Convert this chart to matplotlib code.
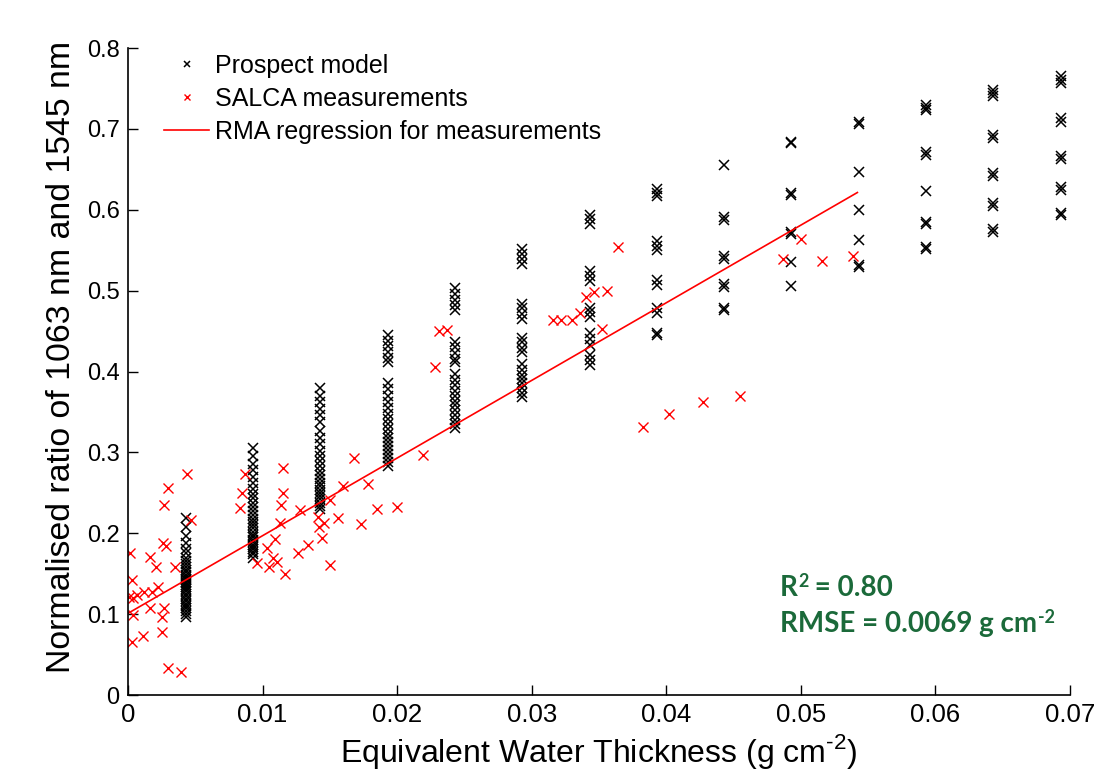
import matplotlib
matplotlib.use("Agg")
import matplotlib.pyplot as plt
import numpy as np

plt.rcParams['font.family'] = ['Liberation Sans', 'DejaVu Sans']
plt.rcParams['mathtext.fontset'] = 'custom'
plt.rcParams['mathtext.rm'] = 'Liberation Sans'

# --- Prospect model (columns of simulated values) ---
ewt_model = [0.0043, 0.0093, 0.0143, 0.0193, 0.0243, 0.0293, 0.0343,
             0.0393, 0.0443, 0.0493, 0.0543, 0.0593, 0.0643, 0.0693]
ratio_model = [
    [0.219, 0.208, 0.197, 0.188, 0.181, 0.175, 0.170, 0.166, 0.162, 0.158,
     0.155, 0.152, 0.149, 0.146, 0.144, 0.142, 0.140, 0.138, 0.136, 0.134,
     0.131, 0.128, 0.125, 0.122, 0.119, 0.116, 0.113, 0.110, 0.107, 0.104,
     0.100, 0.096],
    [0.305, 0.295, 0.286, 0.278, 0.270, 0.262, 0.255, 0.249, 0.243, 0.237,
     0.232, 0.227, 0.222, 0.218, 0.214, 0.210, 0.206, 0.202, 0.198, 0.195,
     0.192, 0.189, 0.186, 0.183, 0.180, 0.177, 0.174, 0.170],
    [0.379, 0.370, 0.362, 0.354, 0.346, 0.338, 0.327, 0.318, 0.310, 0.302,
     0.295, 0.289, 0.283, 0.277, 0.272, 0.267, 0.262, 0.258, 0.254, 0.250,
     0.246, 0.242, 0.238, 0.234, 0.230],
    [0.445, 0.438, 0.431, 0.424, 0.417, 0.412, 0.386, 0.378, 0.370, 0.362,
     0.355, 0.348, 0.341, 0.335, 0.329, 0.323, 0.318, 0.313, 0.308, 0.303,
     0.298, 0.293, 0.288, 0.283],
    [0.503, 0.496, 0.489, 0.482, 0.476, 0.437, 0.430, 0.423, 0.416, 0.412,
     0.397, 0.390, 0.383, 0.376, 0.370, 0.364, 0.358, 0.352, 0.346, 0.340,
     0.335, 0.330],
    [0.551, 0.545, 0.539, 0.533, 0.484, 0.478, 0.471, 0.465, 0.442, 0.436,
     0.429, 0.424, 0.409, 0.402, 0.396, 0.391, 0.386, 0.380, 0.374, 0.369],
    [0.594, 0.588, 0.582, 0.524, 0.518, 0.512, 0.479, 0.473, 0.468, 0.447,
     0.440, 0.433, 0.421, 0.414, 0.408],
    [0.626, 0.621, 0.617, 0.561, 0.555, 0.550, 0.513, 0.507, 0.478, 0.472,
     0.448, 0.445],
    [0.655, 0.591, 0.587, 0.543, 0.539, 0.508, 0.505, 0.479, 0.476],
    [0.684, 0.682, 0.621, 0.618, 0.573, 0.570, 0.535, 0.506],
    [0.709, 0.706, 0.647, 0.600, 0.562, 0.532, 0.529],
    [0.730, 0.726, 0.723, 0.671, 0.668, 0.623, 0.585, 0.582, 0.554, 0.551],
    [0.748, 0.744, 0.741, 0.692, 0.689, 0.645, 0.642, 0.608, 0.605, 0.576,
     0.573],
    [0.766, 0.761, 0.757, 0.713, 0.709, 0.666, 0.663, 0.628, 0.625, 0.596,
     0.593],
]

# --- SALCA measurements ---
ewt_meas = [0.00015, 0.0003, 0.0001, 0.0004, 0.0007, 0.0012, 0.0018, 0.0022,
            0.0004, 0.0003, 0.0011, 0.0016, 0.0016, 0.0021, 0.0025, 0.0025,
            0.0027, 0.0026, 0.0028, 0.0027, 0.0030, 0.0030, 0.0039, 0.0035,
            0.0044, 0.0047,
            0.0087, 0.0085, 0.0083, 0.0096, 0.0103, 0.0105, 0.0109, 0.0108,
            0.0111, 0.0114, 0.0115, 0.0115, 0.0113, 0.0117, 0.0126, 0.0128,
            0.0134,
            0.0144, 0.0141, 0.0142, 0.0146, 0.0150, 0.0150, 0.0156, 0.0160,
            0.0168, 0.0173, 0.0178, 0.0185, 0.0200, 0.0219, 0.0228, 0.0231,
            0.0237,
            0.0316, 0.0322, 0.0330, 0.0336, 0.0340, 0.0346, 0.0356, 0.0352,
            0.0364, 0.0383, 0.0402, 0.0427, 0.0455, 0.0487, 0.0500, 0.0516,
            0.0539]
ratio_meas = [0.176, 0.142, 0.121, 0.120, 0.124, 0.127, 0.127, 0.134,
              0.099, 0.066, 0.073, 0.108, 0.171, 0.158, 0.096, 0.078,
              0.108, 0.188, 0.184, 0.235, 0.256, 0.033, 0.029, 0.158,
              0.273, 0.216,
              0.273, 0.250, 0.231, 0.163, 0.182, 0.158, 0.193, 0.169,
              0.165, 0.235, 0.250, 0.281, 0.213, 0.150, 0.175, 0.229,
              0.185,
              0.194, 0.220, 0.208, 0.213, 0.241, 0.161, 0.219, 0.258,
              0.293, 0.211, 0.261, 0.230, 0.232, 0.297, 0.405, 0.450,
              0.451,
              0.464, 0.464, 0.464, 0.472, 0.492, 0.498, 0.500, 0.452,
              0.554, 0.331, 0.347, 0.362, 0.370, 0.539, 0.564, 0.537,
              0.543]

# --- RMA regression line ---
rma_intercept = 0.101
rma_slope = 9.6
rma_xrange = [0.0, 0.0542]

xm = np.concatenate([[x] * len(v) for x, v in zip(ewt_model, ratio_model)])
ym = np.concatenate(ratio_model)

fig = plt.figure(figsize=(10.97, 7.73), dpi=100)
ax = fig.add_axes([0.1167, 0.1009, 0.8587, 0.8370])

ax.plot(xm, ym, 'x', color='black', markersize=7, markeredgewidth=1.1,
        label='Prospect model')
ax.plot(ewt_meas, ratio_meas, 'x', color='red', markersize=7,
        markeredgewidth=1.0, label='SALCA measurements')
xl = np.array(rma_xrange)
ax.plot(xl, rma_intercept + rma_slope * xl, color='red', linewidth=1.2,
        label='RMA regression for measurements')

ax.set_xlim(0, 0.07)
ax.set_ylim(0, 0.8)
ax.set_xticks(np.arange(0, 0.0701, 0.01))
ax.set_xticklabels(['0', '0.01', '0.02', '0.03', '0.04', '0.05', '0.06', '0.07'])
ax.set_yticks(np.arange(0, 0.801, 0.1))
ax.set_yticklabels(['0', '0.1', '0.2', '0.3', '0.4', '0.5', '0.6', '0.7', '0.8'])
ax.tick_params(direction='in', length=7, width=1.0, pad=6)
ax.tick_params(axis='y', labelsize=17)
ax.tick_params(axis='x', labelsize=18.5)
for s in ['top', 'right']:
    ax.spines[s].set_visible(False)
for s in ['left', 'bottom']:
    ax.spines[s].set_linewidth(1.2)

ax.set_xlabel(r'Equivalent Water Thickness (g cm$^{\text{-2}}$)', fontsize=23, labelpad=3)
ax.set_ylabel('Normalised ratio of 1063 nm and 1545 nm', fontsize=24.4)
ax.yaxis.set_label_coords(-0.054, 0.522)

leg = ax.legend(loc='upper left', frameon=False, fontsize=18, markerscale=0.6,
                handlelength=1.8, handletextpad=0.25, labelspacing=0.36,
                borderaxespad=0.0, bbox_to_anchor=(0.0276, 1.006))

green = '#1b6a3a'
gkw = dict(fontweight='bold', family='Lato', color=green)
t1 = ax.text(0.692, 0.166, 'R', transform=ax.transAxes, fontsize=20,
             va='center', **gkw)
ax.annotate('2', xy=(1, 1), xycoords=t1, xytext=(0.5, 1), textcoords='offset points',
            fontsize=13, va='top', ha='left', **gkw)
ax.annotate(' = 0.80', xy=(1, 0), xycoords=t1, xytext=(7.5, 0),
            textcoords='offset points', fontsize=20, va='bottom', ha='left', **gkw)
t2 = ax.text(0.692, 0.110, 'RMSE = 0.0069 g cm', transform=ax.transAxes,
             fontsize=20, va='center', **gkw)
ax.annotate('-2', xy=(1, 1), xycoords=t2, xytext=(0.5, 1), textcoords='offset points',
            fontsize=13, va='top', ha='left', **gkw)

plt.savefig('out.png', dpi=100)
